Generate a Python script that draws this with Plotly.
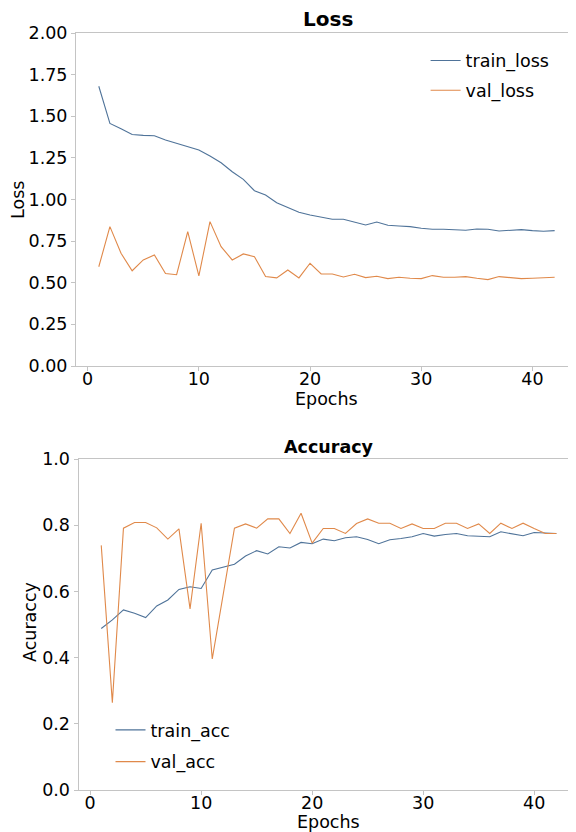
import plotly.graph_objects as go

epochs = list(range(1, 43))

train_loss = [1.68, 1.457, 1.425, 1.39, 1.385, 1.383, 1.357, 1.337, 1.317, 1.297,
              1.261, 1.221, 1.167, 1.121, 1.053, 1.027, 0.981, 0.951, 0.923, 0.907,
              0.893, 0.881, 0.881, 0.863, 0.847, 0.865, 0.845, 0.841, 0.837, 0.827,
              0.821, 0.821, 0.819, 0.815, 0.823, 0.821, 0.811, 0.815, 0.819, 0.813,
              0.809, 0.813]
val_loss = [0.596, 0.837, 0.677, 0.572, 0.637, 0.667, 0.556, 0.548, 0.807, 0.541,
            0.867, 0.717, 0.637, 0.673, 0.657, 0.537, 0.529, 0.577, 0.529, 0.617,
            0.553, 0.553, 0.535, 0.551, 0.531, 0.539, 0.525, 0.533, 0.527, 0.525,
            0.543, 0.533, 0.533, 0.537, 0.527, 0.519, 0.537, 0.529, 0.525, 0.527,
            0.531, 0.533]
train_acc = [0.488, 0.514, 0.544, 0.534, 0.521, 0.556, 0.574, 0.606, 0.614, 0.609,
             0.665, 0.673, 0.682, 0.707, 0.723, 0.713, 0.735, 0.731, 0.748, 0.744,
             0.758, 0.753, 0.762, 0.765, 0.757, 0.744, 0.756, 0.76, 0.765, 0.775,
             0.767, 0.772, 0.775, 0.768, 0.766, 0.765, 0.78, 0.773, 0.768, 0.778,
             0.777, 0.775]
val_acc = [0.739, 0.264, 0.791, 0.808, 0.808, 0.792, 0.758, 0.789, 0.547, 0.806,
           0.396, 0.589, 0.791, 0.804, 0.791, 0.819, 0.819, 0.775, 0.836, 0.746,
           0.79, 0.79, 0.775, 0.805, 0.819, 0.806, 0.806, 0.79, 0.804, 0.79,
           0.79, 0.806, 0.806, 0.79, 0.804, 0.775, 0.806, 0.79, 0.806, 0.79,
           0.775, 0.775]

loss_ticks = [0.0, 0.25, 0.5, 0.75, 1.0, 1.25, 1.5, 1.75, 2.0]
acc_ticks = [0.0, 0.2, 0.4, 0.6, 0.8, 1.0]
epoch_ticks = [0, 10, 20, 30, 40]

BLUE = "#4f7399"
ORANGE = "#e0894a"
FONT = "DejaVu Sans"
W, H = 568, 824  # page has an 8px body margin in a 576x832 window

fig = go.Figure()
fig.add_trace(go.Scatter(x=epochs, y=train_loss, mode="lines", name="train_loss",
                         line=dict(color=BLUE, width=1.1), xaxis="x", yaxis="y",
                         legend="legend", legendgroup="a"))
fig.add_trace(go.Scatter(x=epochs, y=val_loss, mode="lines", name="val_loss",
                         line=dict(color=ORANGE, width=1.1), xaxis="x", yaxis="y",
                         legend="legend", legendgroup="b"))
fig.add_trace(go.Scatter(x=epochs, y=train_acc, mode="lines", name="train_acc",
                         line=dict(color=BLUE, width=1.1), xaxis="x2", yaxis="y2",
                         legend="legend2", legendgroup="c"))
fig.add_trace(go.Scatter(x=epochs, y=val_acc, mode="lines", name="val_acc",
                         line=dict(color=ORANGE, width=1.1), xaxis="x2", yaxis="y2",
                         legend="legend2", legendgroup="d"))

axis_common = dict(showgrid=False, zeroline=False, showline=True, linecolor="#c4c4c4",
                   linewidth=1, ticks="outside", ticklen=4, tickcolor="#c4c4c4",
                   automargin=False,
                   tickfont=dict(family=FONT, size=17.5, color="black"))


def px_x(p):
    return (p - 8) / W


def px_y(p):
    return 1 - (p - 8) / H


fig.update_layout(
    width=W, height=H,
    margin=dict(l=0, r=0, t=0, b=0, autoexpand=False),
    paper_bgcolor="white", plot_bgcolor="white",
    font=dict(family=FONT, color="black"),
    xaxis=dict(domain=[px_x(76), 1.0], range=[-1.05, 43.92], anchor="y",
               tickvals=epoch_ticks, mirror=True, ticklabelstandoff=-7, **axis_common),
    yaxis=dict(domain=[px_y(366), px_y(33)], range=[0, 2.0], anchor="x",
               tickvals=loss_ticks, tickformat=".2f", **axis_common),
    xaxis2=dict(domain=[px_x(78.5), 1.0], range=[-1.05, 43.77], anchor="y2",
                tickvals=epoch_ticks, mirror=True, ticklabelstandoff=-7, **axis_common),
    yaxis2=dict(domain=[px_y(790), px_y(459)], range=[0, 1.0], anchor="x2",
                tickvals=acc_ticks, tickformat=".1f", **axis_common),
    legend=dict(x=px_x(425.6), y=px_y(42.6), xanchor="left", yanchor="top",
                bgcolor="rgba(0,0,0,0)", font=dict(family=FONT, size=17.5),
                tracegroupgap=4),
    legend2=dict(x=px_x(110.5), y=px_y(712), xanchor="left", yanchor="top",
                 bgcolor="rgba(0,0,0,0)", font=dict(family=FONT, size=17.5),
                 tracegroupgap=6),
    annotations=[
        dict(text="<b>Loss</b>", x=px_x(328), y=px_y(19), xref="paper", yref="paper",
             showarrow=False, font=dict(family=FONT, size=20), xanchor="center",
             yanchor="middle"),
        dict(text="<b>Accuracy</b>", x=px_x(329), y=px_y(447), xref="paper", yref="paper",
             showarrow=False, font=dict(family=FONT, size=17.5), xanchor="center",
             yanchor="middle"),
        dict(text="Epochs", x=px_x(326), y=px_y(399), xref="paper", yref="paper",
             showarrow=False, font=dict(family=FONT, size=17.5), xanchor="center",
             yanchor="middle"),
        dict(text="Epochs", x=px_x(328), y=px_y(822), xref="paper", yref="paper",
             showarrow=False, font=dict(family=FONT, size=17.5), xanchor="center",
             yanchor="middle"),
        dict(text="Loss", x=px_x(18), y=px_y(200), xref="paper", yref="paper",
             showarrow=False, font=dict(family=FONT, size=17.5), textangle=-90,
             xanchor="center", yanchor="middle"),
        dict(text="Acuraccy", x=px_x(30), y=px_y(622), xref="paper", yref="paper",
             showarrow=False, font=dict(family=FONT, size=17.5), textangle=-90,
             xanchor="center", yanchor="middle"),
    ],
)

fig.write_html("out.html")
